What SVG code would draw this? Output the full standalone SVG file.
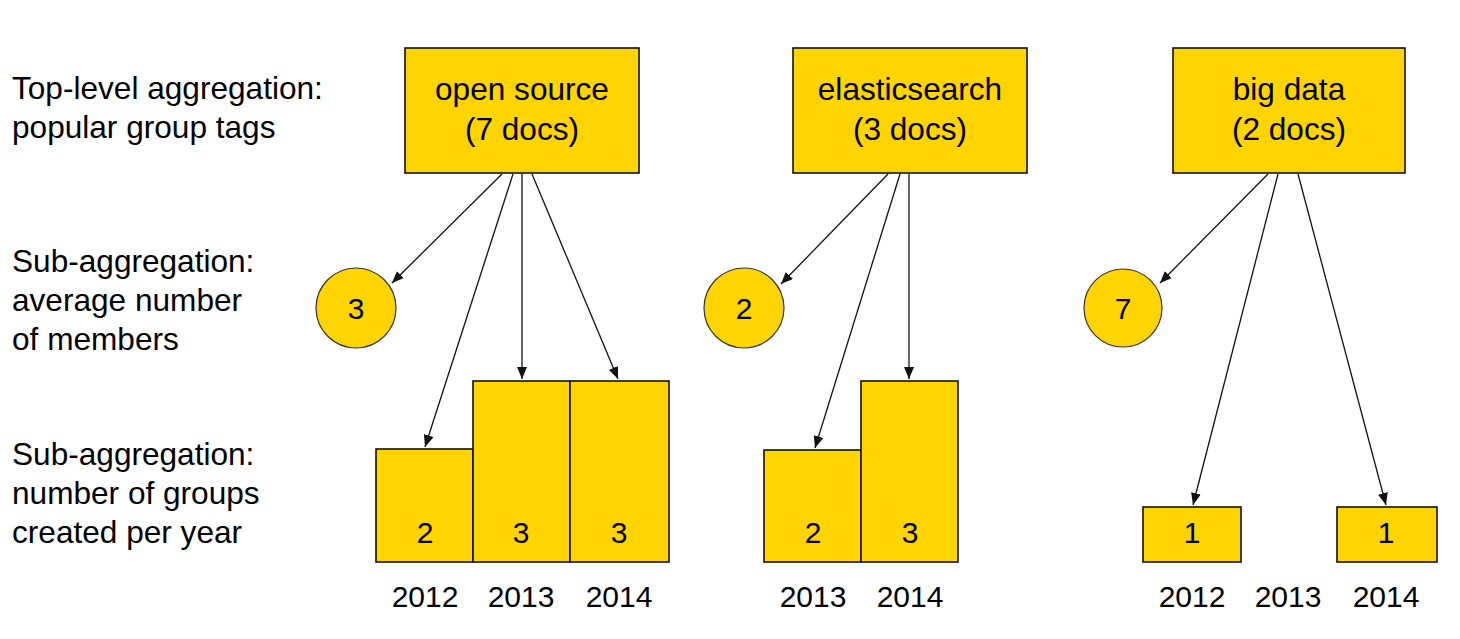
<svg xmlns="http://www.w3.org/2000/svg" width="1460" height="639" viewBox="0 0 1460 639">
<defs>
<style>
.t{font-family:"Liberation Sans",Arial,sans-serif;font-size:31.6px;fill:#000}
.c{text-anchor:middle}
.y{font-size:30px}
.box{fill:#FFD400;stroke:#111;stroke-width:1.6}
.circ{fill:#FFD400;stroke:#333;stroke-width:1.2}
.ln{stroke:#111;stroke-width:1.3;fill:none;marker-end:url(#ah)}
</style>
<marker id="ah" viewBox="0 0 12 10" refX="12" refY="5" markerWidth="12" markerHeight="10" markerUnits="userSpaceOnUse" orient="auto">
<path d="M0,0 L12,5 L0,10 Z" fill="#111"/>
</marker>
</defs>
<rect width="1460" height="639" fill="#fff"/>
<g id="labels">
<text class="t" x="12" y="99">Top-level aggregation:</text>
<text class="t" x="12" y="138">popular group tags</text>
<text class="t" x="12" y="272">Sub-aggregation:</text>
<text class="t" x="12" y="311">average number</text>
<text class="t" x="12" y="350">of members</text>
<text class="t" x="12" y="465">Sub-aggregation:</text>
<text class="t" x="12" y="504">number of groups</text>
<text class="t" x="12" y="543">created per year</text>
</g>
<g id="connectors">
<line class="ln" x1="502" y1="174" x2="392" y2="283"/>
<line class="ln" x1="513" y1="174" x2="425" y2="447"/>
<line class="ln" x1="522" y1="174" x2="522" y2="379"/>
<line class="ln" x1="532" y1="174" x2="618" y2="379"/>
<line class="ln" x1="888" y1="174" x2="781" y2="284"/>
<line class="ln" x1="900" y1="174" x2="815" y2="448"/>
<line class="ln" x1="909" y1="174" x2="909" y2="379"/>
<line class="ln" x1="1268" y1="174" x2="1160" y2="283"/>
<line class="ln" x1="1278" y1="174" x2="1193" y2="505"/>
<line class="ln" x1="1298" y1="174" x2="1386" y2="505"/>
</g>
<g id="open-source">
<rect class="box" x="405" y="48" width="234" height="125"/>
<text class="t c" x="522" y="100">open source</text>
<text class="t c" x="522" y="140">(7 docs)</text>
</g>
<g id="elasticsearch">
<rect class="box" x="793" y="48" width="234" height="125"/>
<text class="t c" x="910" y="100">elasticsearch</text>
<text class="t c" x="910" y="140">(3 docs)</text>
</g>
<g id="big-data">
<rect class="box" x="1173" y="48" width="232" height="125"/>
<text class="t c" x="1289" y="100">big data</text>
<text class="t c" x="1289" y="140">(2 docs)</text>
</g>
<g id="avg-open-source">
<circle class="circ" cx="356" cy="308" r="40"/>
<text class="t c y" x="356" y="319">3</text>
</g>
<g id="avg-elasticsearch">
<circle class="circ" cx="744" cy="308" r="40"/>
<text class="t c y" x="744" y="319">2</text>
</g>
<g id="avg-big-data">
<circle class="circ" cx="1123" cy="308" r="39"/>
<text class="t c y" x="1123" y="319">7</text>
</g>
<g id="os-2012">
<rect class="box" x="376" y="449" width="97" height="113"/>
<text class="t c y" x="425" y="543">2</text>
<text class="t c y" x="425" y="607">2012</text>
</g>
<g id="os-2013">
<rect class="box" x="473" y="381" width="97" height="181"/>
<text class="t c y" x="521" y="543">3</text>
<text class="t c y" x="521" y="607">2013</text>
</g>
<g id="os-2014">
<rect class="box" x="570" y="381" width="99" height="181"/>
<text class="t c y" x="619" y="543">3</text>
<text class="t c y" x="619" y="607">2014</text>
</g>
<g id="es-2013">
<rect class="box" x="764" y="450" width="97" height="112"/>
<text class="t c y" x="813" y="543">2</text>
<text class="t c y" x="813" y="607">2013</text>
</g>
<g id="es-2014">
<rect class="box" x="861" y="381" width="97" height="181"/>
<text class="t c y" x="910" y="543">3</text>
<text class="t c y" x="910" y="607">2014</text>
</g>
<g id="bd-2012">
<rect class="box" x="1143" y="507" width="98" height="55"/>
<text class="t c y" x="1192" y="543">1</text>
<text class="t c y" x="1192" y="607">2012</text>
</g>
<g id="bd-2013">
<text class="t c y" x="1288" y="607">2013</text>
</g>
<g id="bd-2014">
<rect class="box" x="1337" y="507" width="100" height="55"/>
<text class="t c y" x="1386" y="543">1</text>
<text class="t c y" x="1386" y="607">2014</text>
</g>
</svg>
